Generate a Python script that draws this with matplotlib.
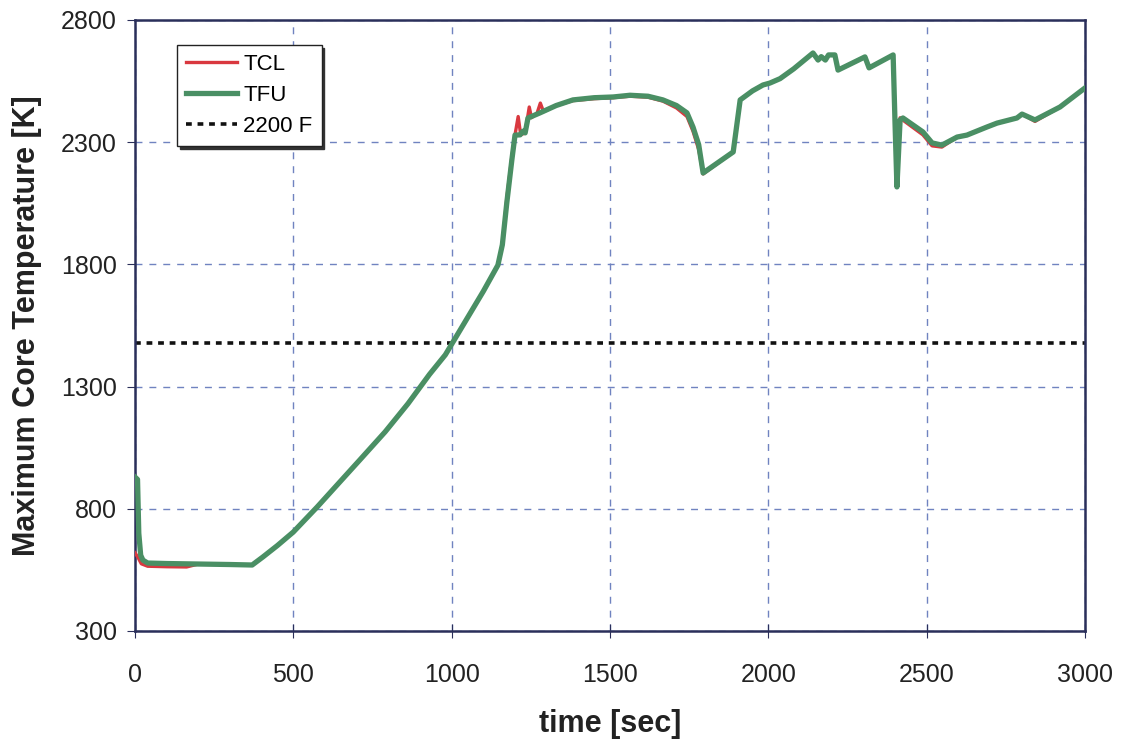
import matplotlib.pyplot as plt

plt.rcParams['font.family'] = ['Liberation Sans', 'DejaVu Sans']

GREEN = "#4a8f64"
RED = "#d9383f"
GRID = "#7083c0"
SPINE = "#2a2f5a"

# TFU (fuel) trace
tfu_t = [0, 8, 12, 18, 25, 40, 100, 200, 300, 370, 404, 450, 500, 575, 640, 710,
         790, 862, 930, 980, 1040, 1100, 1146, 1160, 1174, 1190, 1200, 1216, 1225,
         1232, 1241, 1279, 1330, 1383, 1450, 1510, 1563, 1620, 1667, 1710, 1743,
         1762, 1780, 1794, 1889, 1911, 1950, 1983, 2005, 2037, 2080, 2141, 2157,
         2167, 2180, 2190, 2210, 2220, 2305, 2318, 2394, 2400, 2406, 2416, 2425,
         2488, 2517, 2548, 2596, 2627, 2690, 2722, 2785, 2801, 2842, 2921, 3000]
tfu_T = [930, 920, 700, 610, 590, 578, 576, 574, 572, 570, 603, 650, 705, 807, 900, 1000,
         1115, 1230, 1350, 1430, 1560, 1690, 1797, 1880, 2051, 2227, 2329, 2330, 2345,
         2338, 2399, 2420, 2450, 2473, 2482, 2485, 2492, 2488, 2473, 2450, 2420,
         2362, 2290, 2174, 2260, 2473, 2510, 2534, 2542, 2560, 2600, 2665, 2636,
         2650, 2636, 2657, 2657, 2595, 2649, 2604, 2657, 2378, 2117, 2391, 2399,
         2342, 2297, 2288, 2321, 2329, 2362, 2378, 2399, 2415, 2391, 2444, 2522]

# TCL (cladding) trace: same path except start, spikes near 1200 s
tcl_t = [0, 10, 20, 40, 100, 163, 200, 300, 370, 404, 450, 500, 575, 640, 710,
         790, 862, 930, 980, 1040, 1100, 1146, 1160, 1174, 1190, 1200, 1210, 1218,
         1232, 1245, 1252, 1270, 1280, 1290, 1330, 1383, 1450, 1510, 1563, 1620,
         1667, 1710, 1743, 1762, 1780, 1794, 1889, 1911, 1950, 1983, 2005, 2037,
         2080, 2141, 2157, 2167, 2180, 2190, 2210, 2220, 2305, 2318, 2394, 2400,
         2406, 2416, 2425, 2488, 2517, 2548, 2596, 2627, 2690, 2722, 2785, 2801,
         2842, 2921, 3000]
tcl_T = [620, 600, 575, 565, 563, 562, 574, 572, 570, 603, 650, 705, 807, 900, 1000,
         1115, 1230, 1350, 1430, 1560, 1690, 1797, 1880, 2070, 2240, 2330, 2405, 2330,
         2338, 2444, 2400, 2420, 2460, 2425, 2450, 2470, 2478, 2482, 2488, 2484,
         2468, 2440, 2405, 2345, 2270, 2170, 2260, 2473, 2510, 2534, 2542, 2560,
         2600, 2665, 2636, 2650, 2636, 2657, 2657, 2595, 2649, 2604, 2657, 2400,
         2117, 2400, 2390, 2330, 2285, 2280, 2321, 2329, 2362, 2378, 2399, 2415,
         2385, 2444, 2522]

limit_2200F = 1477.6  # 2200 F in K

fig = plt.figure(figsize=(11.23, 7.40), dpi=100)
ax = fig.add_axes([0.1202, 0.1473, 0.8460, 0.8257])

ax.plot(tcl_t, tcl_T, color=RED, lw=2.4, label="TCL", zorder=3)
ax.plot(tfu_t, tfu_T, color=GREEN, lw=3.8, label="TFU", zorder=4)
ax.axhline(limit_2200F, color="#111111", lw=2.6, ls=(0, (1.6, 1.6)), label="2200 F", zorder=2)

ax.set_xlim(0, 3000)
ax.set_ylim(300, 2800)
ax.set_xticks(range(0, 3001, 500))
ax.set_yticks(range(300, 2801, 500))
ax.grid(True, color=GRID, ls=(0, (5, 5)), lw=1.0)

for spine in ax.spines.values():
    spine.set_color(SPINE)
    spine.set_linewidth(1.8)

ax.tick_params(axis="y", direction="out", length=6, color=SPINE, labelsize=18, labelcolor="#222222", pad=7)
ax.tick_params(axis="x", direction="inout", length=10, color=SPINE, labelsize=18, labelcolor="#222222", pad=18)

ax.set_xlabel("time [sec]", fontsize=22, fontweight="bold", color="#222222", labelpad=16)
ax.set_ylabel("Maximum Core Temperature [K]", fontsize=22, fontweight="bold", color="#222222", labelpad=14)

leg = ax.legend(loc="upper left", bbox_to_anchor=(0.044, 0.959), fontsize=16, frameon=True,
                fancybox=False, shadow={"color": "#333333", "alpha": 1.0}, edgecolor="#222222",
                handlelength=2.3, handletextpad=0.3, borderpad=0.4, labelspacing=0.45,
                borderaxespad=0.0)
leg.get_frame().set_linewidth(1.0)

fig.savefig("out.png", dpi=100, facecolor="white")
